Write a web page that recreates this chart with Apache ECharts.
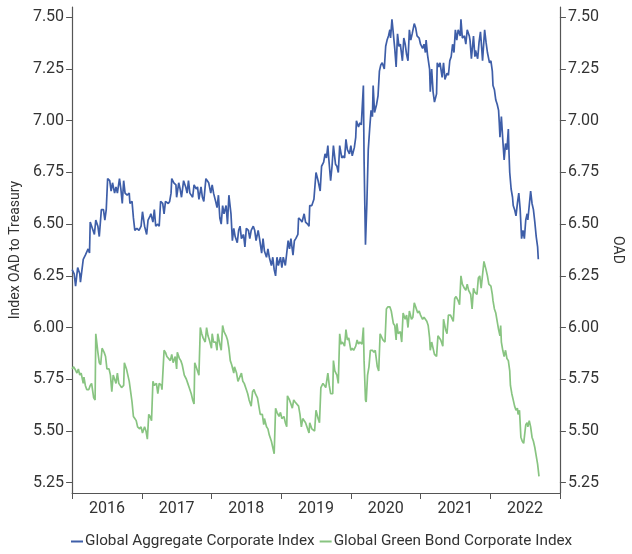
<!DOCTYPE html>
<html>
<head>
<meta charset="utf-8">
<script src="https://cdn.jsdelivr.net/npm/echarts@6/dist/echarts.min.js"></script>
<style>
  html, body { margin: 0; padding: 0; background: #fff; }
  #chart { width: 632px; height: 554px; }
</style>
</head>
<body>
<div id="chart"></div>
<script>
// year labels sit between the yearly ticks
var years = ['2016', '2017', '2018', '2019', '2020', '2021', '2022'];
var yTicks = [5.25, 5.5, 5.75, 6, 6.25, 6.5, 6.75, 7, 7.25, 7.5];

// [year, OAD]
var aggregateCorp = [
  [2016.00,6.28],[2016.03,6.26],[2016.05,6.20],[2016.08,6.29],[2016.11,6.26],[2016.12,6.22],[2016.16,6.33],[2016.19,6.35],
  [2016.23,6.38],[2016.25,6.36],[2016.26,6.51],[2016.30,6.47],[2016.32,6.45],[2016.34,6.52],[2016.37,6.49],[2016.39,6.44],
  [2016.42,6.57],[2016.45,6.57],[2016.47,6.52],[2016.49,6.57],[2016.51,6.72],[2016.54,6.71],[2016.56,6.66],[2016.58,6.70],
  [2016.61,6.65],[2016.63,6.68],[2016.65,6.65],[2016.68,6.72],[2016.70,6.67],[2016.72,6.60],[2016.74,6.71],[2016.76,6.65],
  [2016.79,6.64],[2016.82,6.65],[2016.83,6.60],[2016.86,6.61],[2016.88,6.53],[2016.90,6.47],[2016.93,6.48],[2016.96,6.47],
  [2016.99,6.49],[2017.01,6.56],[2017.04,6.49],[2017.07,6.45],[2017.09,6.52],[2017.12,6.54],[2017.13,6.55],[2017.16,6.51],
  [2017.18,6.57],[2017.20,6.49],[2017.23,6.50],[2017.25,6.49],[2017.27,6.61],[2017.30,6.60],[2017.32,6.55],[2017.34,6.61],
  [2017.38,6.60],[2017.40,6.61],[2017.42,6.65],[2017.43,6.72],[2017.46,6.70],[2017.49,6.69],[2017.50,6.63],[2017.53,6.70],
  [2017.55,6.67],[2017.57,6.63],[2017.60,6.71],[2017.63,6.68],[2017.65,6.65],[2017.67,6.71],[2017.69,6.65],[2017.71,6.65],
  [2017.73,6.63],[2017.75,6.69],[2017.78,6.67],[2017.80,6.68],[2017.82,6.62],[2017.85,6.68],[2017.87,6.63],[2017.89,6.61],
  [2017.92,6.72],[2017.94,6.71],[2017.96,6.70],[2017.99,6.65],[2018.01,6.69],[2018.03,6.65],[2018.06,6.61],[2018.08,6.58],
  [2018.10,6.64],[2018.12,6.53],[2018.14,6.50],[2018.16,6.59],[2018.18,6.55],[2018.21,6.59],[2018.23,6.50],[2018.25,6.64],
  [2018.28,6.55],[2018.30,6.42],[2018.32,6.48],[2018.34,6.44],[2018.37,6.41],[2018.39,6.47],[2018.41,6.49],[2018.43,6.43],
  [2018.46,6.45],[2018.48,6.39],[2018.50,6.48],[2018.53,6.47],[2018.55,6.43],[2018.57,6.47],[2018.60,6.49],[2018.62,6.47],
  [2018.64,6.42],[2018.67,6.47],[2018.69,6.43],[2018.72,6.36],[2018.74,6.43],[2018.76,6.37],[2018.79,6.34],[2018.81,6.38],
  [2018.83,6.34],[2018.86,6.30],[2018.88,6.34],[2018.90,6.28],[2018.92,6.25],[2018.94,6.34],[2018.96,6.30],[2018.99,6.34],
  [2019.01,6.29],[2019.03,6.34],[2019.06,6.30],[2019.08,6.30],[2019.10,6.42],[2019.12,6.38],[2019.14,6.43],[2019.17,6.35],
  [2019.19,6.42],[2019.21,6.43],[2019.24,6.45],[2019.25,6.53],[2019.28,6.52],[2019.30,6.51],[2019.33,6.55],[2019.35,6.51],
  [2019.38,6.50],[2019.40,6.49],[2019.41,6.59],[2019.44,6.59],[2019.47,6.62],[2019.49,6.62],[2019.50,6.75],[2019.53,6.71],
  [2019.56,6.66],[2019.58,6.78],[2019.61,6.80],[2019.63,6.84],[2019.65,6.82],[2019.67,6.88],[2019.68,6.83],[2019.71,6.71],
  [2019.73,6.78],[2019.75,6.88],[2019.78,6.79],[2019.80,6.78],[2019.82,6.75],[2019.84,6.88],[2019.87,6.82],[2019.89,6.83],
  [2019.91,6.82],[2019.93,6.91],[2019.95,6.86],[2019.98,6.84],[2020.00,6.88],[2020.02,6.83],[2020.05,6.87],[2020.07,6.92],
  [2020.08,7.00],[2020.11,6.97],[2020.13,6.99],[2020.15,6.98],[2020.18,7.17],[2020.19,6.81],[2020.21,6.40],[2020.23,6.60],
  [2020.25,6.86],[2020.27,6.96],[2020.29,7.05],[2020.31,7.02],[2020.32,7.17],[2020.34,7.04],[2020.37,7.08],[2020.39,7.12],
  [2020.41,7.24],[2020.43,7.27],[2020.45,7.28],[2020.48,7.25],[2020.50,7.36],[2020.52,7.39],[2020.54,7.41],[2020.56,7.44],
  [2020.57,7.40],[2020.59,7.49],[2020.61,7.42],[2020.63,7.35],[2020.65,7.26],[2020.67,7.42],[2020.69,7.36],[2020.71,7.37],
  [2020.74,7.29],[2020.76,7.40],[2020.78,7.37],[2020.80,7.32],[2020.82,7.29],[2020.84,7.44],[2020.86,7.39],[2020.88,7.42],
  [2020.91,7.47],[2020.93,7.45],[2020.95,7.41],[2020.98,7.40],[2021.00,7.37],[2021.03,7.35],[2021.05,7.37],[2021.07,7.33],
  [2021.08,7.39],[2021.10,7.32],[2021.13,7.25],[2021.14,7.14],[2021.16,7.25],[2021.18,7.14],[2021.20,7.09],[2021.23,7.13],
  [2021.24,7.28],[2021.26,7.26],[2021.28,7.28],[2021.31,7.21],[2021.33,7.28],[2021.35,7.20],[2021.38,7.23],[2021.40,7.22],
  [2021.42,7.29],[2021.44,7.31],[2021.46,7.37],[2021.48,7.33],[2021.50,7.44],[2021.52,7.39],[2021.54,7.44],[2021.57,7.41],
  [2021.58,7.49],[2021.60,7.40],[2021.63,7.41],[2021.65,7.37],[2021.67,7.44],[2021.70,7.41],[2021.71,7.39],[2021.73,7.30],
  [2021.76,7.41],[2021.78,7.31],[2021.79,7.34],[2021.82,7.30],[2021.84,7.38],[2021.86,7.43],[2021.88,7.34],[2021.89,7.29],
  [2021.92,7.44],[2021.94,7.38],[2021.96,7.33],[2021.99,7.28],[2022.01,7.29],[2022.03,7.24],[2022.04,7.17],[2022.06,7.15],
  [2022.08,7.10],[2022.10,7.08],[2022.12,7.05],[2022.13,6.99],[2022.14,6.92],[2022.16,7.02],[2022.18,6.91],[2022.20,6.81],
  [2022.22,6.89],[2022.24,6.86],[2022.26,6.96],[2022.27,6.84],[2022.28,6.75],[2022.30,6.67],[2022.32,6.63],[2022.33,6.59],
  [2022.35,6.57],[2022.37,6.54],[2022.39,6.60],[2022.41,6.65],[2022.43,6.57],[2022.45,6.43],[2022.47,6.47],[2022.49,6.43],
  [2022.51,6.52],[2022.53,6.55],[2022.54,6.52],[2022.56,6.59],[2022.58,6.66],[2022.60,6.60],[2022.62,6.57],[2022.64,6.51],
  [2022.66,6.44],[2022.68,6.39],[2022.69,6.33]
];

var greenBondCorp = [
  [2016.00,5.80],[2016.02,5.81],[2016.04,5.80],[2016.07,5.78],[2016.09,5.80],[2016.11,5.77],[2016.13,5.78],[2016.16,5.73],
  [2016.17,5.76],[2016.19,5.72],[2016.21,5.70],[2016.24,5.70],[2016.26,5.72],[2016.28,5.73],[2016.31,5.66],[2016.33,5.65],
  [2016.34,5.97],[2016.37,5.88],[2016.39,5.83],[2016.41,5.82],[2016.43,5.90],[2016.46,5.88],[2016.48,5.86],[2016.50,5.80],
  [2016.53,5.80],[2016.55,5.77],[2016.57,5.69],[2016.59,5.77],[2016.61,5.75],[2016.63,5.73],[2016.65,5.78],[2016.67,5.73],
  [2016.69,5.73],[2016.71,5.71],[2016.74,5.72],[2016.75,5.83],[2016.78,5.80],[2016.80,5.77],[2016.82,5.74],[2016.84,5.69],
  [2016.86,5.64],[2016.88,5.57],[2016.90,5.56],[2016.92,5.55],[2016.94,5.52],[2016.97,5.51],[2016.99,5.52],[2017.01,5.49],
  [2017.04,5.52],[2017.06,5.50],[2017.08,5.46],[2017.10,5.58],[2017.12,5.57],[2017.14,5.55],[2017.16,5.74],[2017.18,5.72],
  [2017.21,5.73],[2017.23,5.68],[2017.25,5.73],[2017.28,5.72],[2017.29,5.70],[2017.32,5.89],[2017.34,5.88],[2017.36,5.86],
  [2017.38,5.86],[2017.41,5.84],[2017.43,5.87],[2017.45,5.83],[2017.48,5.86],[2017.50,5.80],[2017.51,5.88],[2017.54,5.85],
  [2017.56,5.84],[2017.58,5.82],[2017.61,5.77],[2017.64,5.75],[2017.66,5.73],[2017.68,5.71],[2017.71,5.68],[2017.73,5.65],
  [2017.75,5.63],[2017.76,5.83],[2017.78,5.81],[2017.80,5.79],[2017.82,5.77],[2017.84,6.00],[2017.86,5.97],[2017.88,5.95],
  [2017.91,5.93],[2017.93,6.00],[2017.95,5.96],[2017.97,5.94],[2018.00,5.90],[2018.01,5.97],[2018.03,5.93],[2018.06,5.93],
  [2018.08,5.89],[2018.09,5.97],[2018.12,5.92],[2018.14,5.89],[2018.16,6.01],[2018.18,5.98],[2018.21,5.96],[2018.23,5.94],
  [2018.25,5.90],[2018.27,5.84],[2018.29,5.82],[2018.32,5.78],[2018.33,5.81],[2018.36,5.78],[2018.38,5.74],[2018.40,5.74],
  [2018.43,5.78],[2018.45,5.74],[2018.47,5.73],[2018.50,5.70],[2018.52,5.68],[2018.54,5.65],[2018.57,5.62],[2018.59,5.69],
  [2018.61,5.70],[2018.63,5.68],[2018.66,5.66],[2018.68,5.62],[2018.70,5.58],[2018.73,5.58],[2018.75,5.53],[2018.76,5.56],
  [2018.79,5.52],[2018.81,5.51],[2018.83,5.48],[2018.86,5.45],[2018.88,5.42],[2018.90,5.39],[2018.92,5.61],[2018.94,5.59],
  [2018.97,5.57],[2018.99,5.59],[2019.01,5.56],[2019.04,5.57],[2019.06,5.54],[2019.08,5.52],[2019.09,5.67],[2019.12,5.65],
  [2019.14,5.63],[2019.16,5.61],[2019.18,5.65],[2019.20,5.64],[2019.22,5.64],[2019.25,5.62],[2019.27,5.58],[2019.29,5.52],
  [2019.31,5.56],[2019.33,5.56],[2019.35,5.54],[2019.38,5.51],[2019.40,5.49],[2019.41,5.54],[2019.44,5.51],[2019.46,5.51],
  [2019.48,5.50],[2019.50,5.60],[2019.53,5.56],[2019.55,5.54],[2019.57,5.71],[2019.60,5.73],[2019.62,5.73],[2019.64,5.71],
  [2019.67,5.78],[2019.69,5.72],[2019.71,5.68],[2019.74,5.68],[2019.75,5.84],[2019.77,5.79],[2019.80,5.77],[2019.82,5.73],
  [2019.84,5.97],[2019.86,5.92],[2019.88,5.93],[2019.91,5.91],[2019.93,5.99],[2019.95,5.94],[2019.97,5.95],[2020.00,5.89],
  [2020.02,5.90],[2020.04,5.89],[2020.07,5.91],[2020.09,5.94],[2020.11,5.92],[2020.13,5.93],[2020.16,5.92],[2020.18,6.00],
  [2020.19,5.84],[2020.21,5.65],[2020.22,5.64],[2020.24,5.77],[2020.26,5.81],[2020.28,5.89],[2020.31,5.89],[2020.33,5.88],
  [2020.35,5.89],[2020.38,5.81],[2020.40,5.79],[2020.42,5.97],[2020.44,5.97],[2020.46,5.94],[2020.49,5.93],[2020.51,6.09],
  [2020.53,6.10],[2020.56,6.10],[2020.58,6.08],[2020.61,6.02],[2020.63,6.01],[2020.65,5.94],[2020.66,6.02],[2020.68,5.97],
  [2020.71,5.98],[2020.73,5.93],[2020.75,6.07],[2020.78,6.04],[2020.80,6.06],[2020.82,6.00],[2020.84,6.08],[2020.87,6.04],
  [2020.89,6.05],[2020.91,6.12],[2020.93,6.10],[2020.96,6.07],[2020.98,6.08],[2021.00,6.06],[2021.03,6.04],[2021.05,6.05],
  [2021.07,6.05],[2021.09,6.03],[2021.11,6.01],[2021.13,5.95],[2021.14,5.89],[2021.16,5.93],[2021.18,5.90],[2021.20,5.87],
  [2021.23,5.86],[2021.25,5.96],[2021.27,5.96],[2021.29,5.94],[2021.32,5.91],[2021.33,6.04],[2021.36,5.99],[2021.38,5.97],
  [2021.40,6.06],[2021.43,6.06],[2021.45,6.06],[2021.47,6.03],[2021.49,6.14],[2021.51,6.15],[2021.54,6.13],[2021.56,6.11],
  [2021.58,6.25],[2021.60,6.21],[2021.63,6.19],[2021.65,6.18],[2021.67,6.21],[2021.69,6.18],[2021.72,6.16],[2021.74,6.09],
  [2021.76,6.19],[2021.78,6.17],[2021.81,6.16],[2021.83,6.24],[2021.85,6.25],[2021.87,6.19],[2021.89,6.19],[2021.91,6.32],
  [2021.94,6.28],[2021.96,6.25],[2021.98,6.21],[2022.01,6.20],[2022.03,6.16],[2022.04,6.13],[2022.06,6.09],[2022.08,6.07],
  [2022.10,6.03],[2022.12,5.99],[2022.14,5.96],[2022.15,6.01],[2022.16,5.93],[2022.18,5.89],[2022.20,5.86],[2022.22,5.89],
  [2022.24,5.85],[2022.26,5.84],[2022.28,5.79],[2022.29,5.72],[2022.31,5.68],[2022.33,5.65],[2022.35,5.62],[2022.37,5.60],
  [2022.39,5.61],[2022.40,5.58],[2022.42,5.60],[2022.44,5.47],[2022.46,5.45],[2022.48,5.44],[2022.51,5.53],[2022.53,5.54],
  [2022.54,5.52],[2022.56,5.55],[2022.58,5.52],[2022.60,5.47],[2022.62,5.45],[2022.64,5.42],[2022.66,5.38],[2022.68,5.34],
  [2022.70,5.28]
];

var axisColor = '#555';
var textColor = '#333';

function yAxisOpt(pos, name, rot) {
  return {
    type: 'value',
    position: pos,
    min: 5.2,
    max: 7.55,
    name: name,
    nameLocation: 'middle',
    nameGap: 44,
    nameRotate: rot,
    nameTextStyle: { fontSize: 14, color: textColor },
    axisLine: { show: true, lineStyle: { color: axisColor, width: 1.2 } },
    axisTick: { show: true, length: 6, customValues: yTicks, lineStyle: { color: axisColor } },
    axisLabel: {
      customValues: yTicks,
      margin: 8,
      fontSize: 16,
      color: textColor,
      formatter: function (v) { return v.toFixed(2); }
    },
    splitLine: { show: false }
  };
}

var chart = echarts.init(document.getElementById('chart'));
chart.setOption({
  animation: false,
  textStyle: { fontFamily: 'Roboto' },
  grid: { left: 66, right: 60, top: 7, bottom: 61 },
  legend: {
    top: 529,
    left: 66,
    icon: 'rect',
    itemWidth: 12,
    itemHeight: 2,
    itemGap: 5,
    textStyle: { fontSize: 15.3, color: textColor, padding: [0, 0, 0, -3] },
    data: ['Global Aggregate Corporate Index', 'Global Green Bond Corporate Index']
  },
  xAxis: [
    {
      type: 'value',
      position: 'bottom',
      min: 2016,
      max: 2023,
      axisLine: { show: true, lineStyle: { color: axisColor, width: 1.2 } },
      axisTick: { show: false },
      axisLabel: { show: false },
      splitLine: { show: false }
    },
    {
      type: 'category',
      position: 'bottom',
      data: years,
      boundaryGap: true,
      axisLine: { show: false },
      axisTick: { show: true, length: 6, lineStyle: { color: axisColor } },
      axisLabel: { fontSize: 16, color: textColor, margin: 8 },
      splitLine: { show: false }
    }
  ],
  yAxis: [
    yAxisOpt('left', 'Index OAD to Treasury', 90),
    yAxisOpt('right', 'OAD', -90)
  ],
  series: [
    {
      name: 'Global Aggregate Corporate Index',
      type: 'line',
      xAxisIndex: 0,
      yAxisIndex: 0,
      data: aggregateCorp,
      symbol: 'none',
      color: '#3e5ea8',
      lineStyle: { width: 1.7 }
    },
    {
      name: 'Global Green Bond Corporate Index',
      type: 'line',
      xAxisIndex: 0,
      yAxisIndex: 1,
      data: greenBondCorp,
      symbol: 'none',
      color: '#88c481',
      lineStyle: { width: 1.7 }
    }
  ]
});
</script>
</body>
</html>
